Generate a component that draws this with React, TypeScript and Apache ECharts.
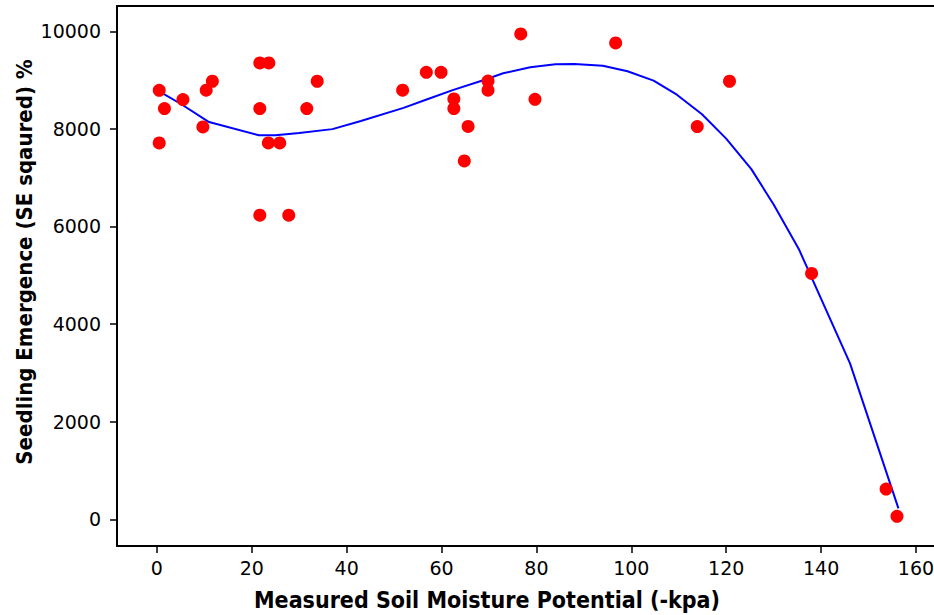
import React, { useEffect, useRef } from "react";
import * as echarts from "echarts";

const xTitle = "Measured Soil Moisture Potential (-kpa)";
const yTitle = "Seedling Emergence (SE sqaured) %";

const xTicks = [0, 20, 40, 60, 80, 100, 120, 140, 160];
const yTicks = [0, 2000, 4000, 6000, 8000, 10000];

// observed points (moisture potential, emergence)
const obsX = [0.5, 1.6, 0.5, 5.5, 10.4, 11.7, 9.7, 21.7, 23.6, 21.7, 23.5, 25.9, 21.7, 27.8, 31.6, 33.8,
  51.8, 56.8, 59.9, 69.8, 69.8, 62.6, 62.6, 65.6, 64.8, 76.7, 79.7, 96.7, 113.9, 120.7, 138, 153.7, 156];
const obsY = [8790, 8417, 7712, 8601, 8792, 8976, 8040, 9351, 9351, 8417, 7712, 7712, 6232, 6232, 8417, 8976,
  8792, 9160, 9160, 8980, 8792, 8614, 8417, 8050, 7344, 9945, 8607, 9761, 8048, 8976, 5038, 620, 61];

// fitted curve
const fitX = [0.5, 5, 11, 21.5, 25, 30, 37, 43, 52, 57, 62.5, 68.8, 73, 78.7, 84, 88, 94, 99.2, 104.7,
  109.6, 114.9, 120, 125.3, 130, 135.3, 146.1, 156.3];
const fitY = [8770, 8515, 8140, 7870, 7872, 7917, 7995, 8160, 8430, 8607, 8800, 8997, 9140, 9262, 9325,
  9328, 9295, 9181, 8990, 8700, 8300, 7800, 7175, 6450, 5540, 3195, 225];

export default function App() {
  const ref = useRef<HTMLDivElement>(null);
  useEffect(() => {
    if (!ref.current) return;
    const chart = echarts.init(ref.current, null, { renderer: "svg" });
    const tickFont = { fontFamily: "DejaVu Sans", fontSize: 19, color: "#000" };
    const plain = (v: number) => String(v);
    const xMin = -8.4;
    const xMax = 163.8;
    chart.setOption({
      animation: false,
      backgroundColor: "#fff",
      grid: {
        left: 117,
        top: 6,
        right: 12,
        bottom: 69,
        show: false,
      },
      xAxis: [
        {
          type: "value",
          min: xMin,
          max: xMax,
          splitLine: { show: false },
          axisLine: { show: true, onZero: false, lineStyle: { color: "#000", width: 2 } },
          axisTick: { show: true, length: 7, lineStyle: { color: "#000", width: 1.5 }, customValues: xTicks },
          axisLabel: { ...tickFont, margin: 12, customValues: xTicks, formatter: plain },
        },
        {
          type: "value",
          position: "top",
          min: xMin,
          max: xMax,
          splitLine: { show: false },
          axisLine: { show: true, onZero: false, lineStyle: { color: "#000", width: 2 } },
          axisTick: { show: false },
          axisLabel: { show: false },
        },
      ],
      yAxis: {
        type: "value",
        min: -547,
        max: 10518,
        splitLine: { show: false },
        axisLine: { show: true, onZero: false, lineStyle: { color: "#000", width: 2 } },
        axisTick: { show: true, length: 7, lineStyle: { color: "#000", width: 1.5 }, customValues: yTicks },
        axisLabel: { ...tickFont, margin: 16, customValues: yTicks, formatter: plain },
      },
      graphic: [
        {
          type: "text",
          x: 487,
          y: 600,
          style: {
            text: xTitle,
            fontFamily: "DejaVu Sans Condensed, DejaVu Sans",
            fontWeight: "bold",
            fontSize: 23,
            fill: "#000",
            textAlign: "center",
            textVerticalAlign: "middle",
          },
        },
        {
          type: "text",
          x: 24,
          y: 262,
          rotation: Math.PI / 2,
          style: {
            text: yTitle,
            fontFamily: "DejaVu Sans Condensed, DejaVu Sans",
            fontWeight: "bold",
            fontSize: 22,
            fill: "#000",
            textAlign: "center",
            textVerticalAlign: "middle",
          },
        },
      ],
      series: [
        {
          type: "line",
          data: fitX.map((x, i) => [x, fitY[i]]),
          showSymbol: false,
          symbol: "none",
          smooth: false,
          lineStyle: { color: "#0000FF", width: 2 },
          z: 2,
        },
        {
          type: "scatter",
          data: obsX.map((x, i) => [x, obsY[i]]),
          symbol: "circle",
          symbolSize: 13,
          itemStyle: { color: "#FF0000", opacity: 1 },
          z: 3,
        },
      ],
    });
    return () => chart.dispose();
  }, []);
  return (
    <div
      style={{ position: "absolute", left: 0, top: 0, width: 934, height: 615, overflow: "hidden" }}
    >
      <div ref={ref} style={{ width: 946, height: 615 }} />
    </div>
  );
}
